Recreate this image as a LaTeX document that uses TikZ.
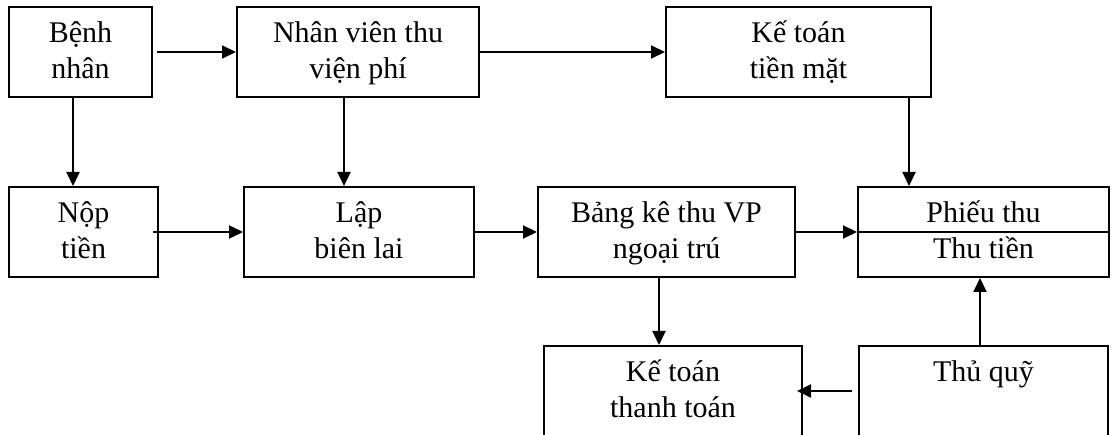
\documentclass[tikz,border=0pt]{standalone}
\usepackage{fontspec}
\setmainfont{Liberation Serif}
\usetikzlibrary{arrows.meta}
\newcommand\st{\rule[-7pt]{0pt}{31pt}}
\begin{document}
\begin{tikzpicture}[x=1pt,y=1pt,
  box/.style={draw, line width=2pt, inner sep=0pt, align=center, minimum height=90pt, font=\fontsize{30}{35.5}\selectfont},
  arr/.style={line width=2pt, -{Triangle[length=14pt,width=13pt]}}]
\useasboundingbox (0,0) rectangle (1113,-435);
\fill[white] (0,0) rectangle (1113,-435);
\node[box, minimum width=143pt] (b1) at (80.5,-52) {\st Bệnh\\\st nhân};
\node[box, minimum width=242pt] (b2) at (358,-52) {\st Nhân viên thu\\\st viện phí};
\node[box, minimum width=265pt] (b3) at (798.5,-52) {\st Kế toán\\\st tiền mặt};
\node[box, minimum width=149pt] (b4) at (83.5,-232) {\st Nộp\\\st tiền};
\node[box, minimum width=230pt] (b5) at (359,-232) {\st Lập\\\st biên lai};
\node[box, minimum width=257pt] (b6) at (666.5,-232) {\st Bảng kê thu VP\\\st ngoại trú};
\node[box, minimum width=251pt] (b7) at (983.5,-232) {\st Phiếu thu\\\st Thu tiền};
\draw[line width=2pt] (b7.west) -- (b7.east);
\node[box, minimum width=258pt] (b8) at (673,-391) {\st Kế toán\\\st thanh toán};
\node[box, minimum width=249pt] (b9) at (983.5,-391) {\st Thủ quỹ\\\st};
% connectors
\draw[arr] ([xshift=4pt]b1.east) -- (b2.west);
\draw[arr] (b2.east) -- (b3.west);
\draw[arr] ([xshift=-7.5pt]b1.south) -- ([xshift=-7.5pt]b1.south |- b4.north);
\draw[arr] ([xshift=-14pt]b2.south) -- ([xshift=-14pt]b2.south |- b5.north);
\draw[arr] ([xshift=110.5pt]b3.south) -- ([xshift=110.5pt]b3.south |- b7.north);
\draw[arr] ([xshift=-6pt]b4.east) -- (b5.west);
\draw[arr] (b5.east) -- (b6.west);
\draw[arr] (b6.east) -- (b7.west);
\draw[arr] ([xshift=-7.5pt]b6.south) -- ([xshift=-7.5pt]b6.south |- b8.north);
\draw[arr] ([xshift=-3.5pt]b9.north) -- ([xshift=-3.5pt]b9.north |- b7.south);
\draw[arr] ([xshift=-6pt]b9.west) -- ([xshift=-6pt]b8.east);
\end{tikzpicture}
\end{document}
